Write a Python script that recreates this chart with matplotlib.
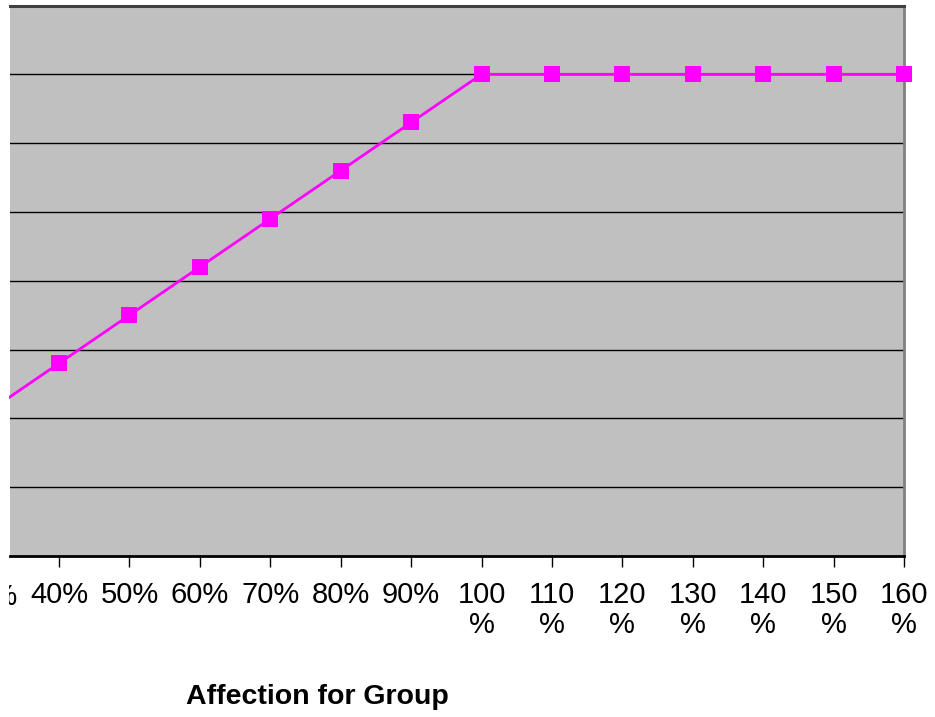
import matplotlib
matplotlib.use('Agg')
import matplotlib.pyplot as plt
from matplotlib.patches import Rectangle

plt.rcParams['font.family'] = ['Liberation Sans', 'DejaVu Sans']

# affection (percent) vs. level
affection = [30, 40, 50, 60, 70, 80, 90, 100, 110, 120, 130, 140, 150, 160]
level = [2.1, 2.8, 3.5, 4.2, 4.9, 5.6, 6.3, 7, 7, 7, 7, 7, 7, 7]
tick_vals = [40, 50, 60, 70, 80, 90, 100, 110, 120, 130, 140, 150, 160]
tick_text = ['40%', '50%', '60%', '70%', '80%', '90%', '100\n%', '110\n%',
             '120\n%', '130\n%', '140\n%', '150\n%', '160\n%']

W, H = 935, 717
fig = plt.figure(figsize=(W / 100, H / 100), dpi=100)
ax = fig.add_axes([10 / W, 161 / H, 894 / W, 550.5 / H])
ax.set_facecolor('#c0c0c0')

ax.plot(affection, level, color='#ff00ff', lw=2.0, marker='s',
        markersize=11, markeredgewidth=0, clip_on=False, zorder=5)

ax.set_xlim(33.04, 160)
ax.set_ylim(0, 8)
ax.set_yticks(range(1, 8))
ax.set_yticklabels([])
ax.tick_params(axis='y', length=0)
ax.grid(axis='y', color='black', lw=1.0)

ax.set_xticks(tick_vals)
ax.set_xticklabels(tick_text, fontsize=21, linespacing=1.1, va='top')
ax.tick_params(axis='x', direction='out', length=8, width=1, pad=10, color='black')

ax.spines['left'].set_visible(False)
ax.spines['bottom'].set_color('black')
ax.spines['bottom'].set_linewidth(2)
ax.spines['top'].set_color('#404040')
ax.spines['top'].set_linewidth(2.2)
ax.spines['right'].set_color('#808080')
ax.spines['right'].set_linewidth(2)

# leftmost label sits outside the visible range
ax.annotate('30%', xy=(30, 0), xycoords=('data', 'axes fraction'),
            xytext=(0, -19.5), textcoords='offset points', ha='center', va='top',
            fontsize=21, annotation_clip=False)

fig.text(317 / W, 1 - 697 / H, 'Affection for Group', ha='center', va='center',
         fontsize=20.5, fontweight='bold')

fig.patches.append(Rectangle((0, 0), 8.5 / W, 1, transform=fig.transFigure,
                             facecolor='white', edgecolor='none', zorder=10))

fig.savefig('out.png', dpi=100, facecolor='white')
